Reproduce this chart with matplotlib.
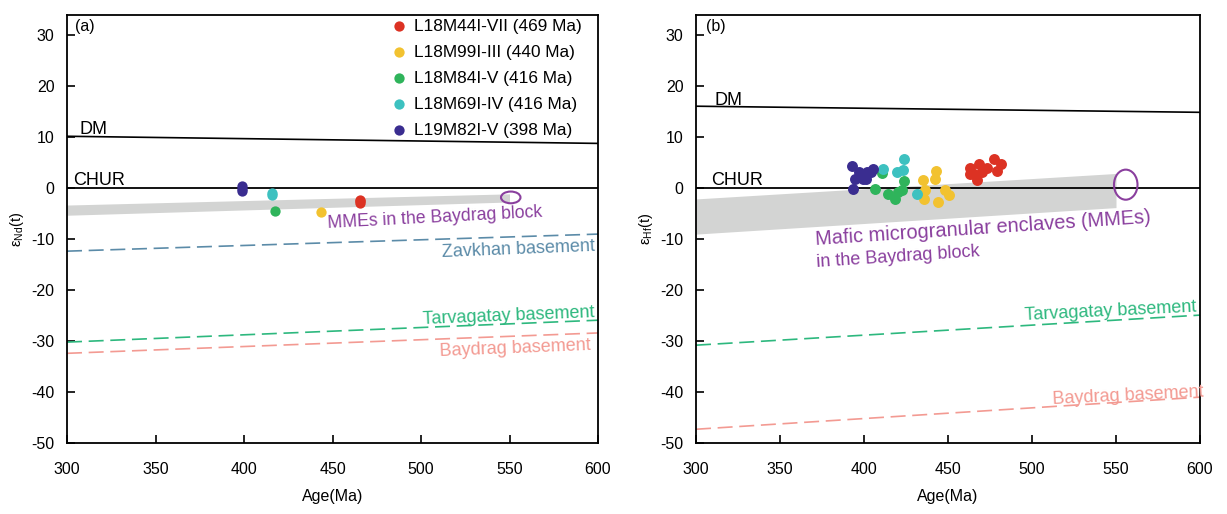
import matplotlib
matplotlib.use("Agg")
import matplotlib.pyplot as plt
from matplotlib.patches import Ellipse
import numpy as np

plt.rcParams['font.family'] = ['Liberation Sans', 'DejaVu Sans']
plt.rcParams['mathtext.fontset'] = 'custom'
plt.rcParams['mathtext.rm'] = 'Liberation Sans'
plt.rcParams['mathtext.it'] = 'Liberation Sans'
plt.rcParams['axes.unicode_minus'] = False

# ---------------- data ----------------
samples = ["L18M44I-VII (469 Ma)", "L18M99I-III (440 Ma)", "L18M84I-V (416 Ma)",
           "L18M69I-IV (416 Ma)", "L19M82I-V (398 Ma)"]
colors = ["#dc3223", "#f2c230", "#2fb45b", "#3dc1c0", "#3a2d90"]

# panel (a) eNd(t)
nd_age = {
    "L18M44I-VII (469 Ma)": [465.5, 465.5, 465.5],
    "L18M99I-III (440 Ma)": [443.3],
    "L18M84I-V (416 Ma)": [417.5],
    "L18M69I-IV (416 Ma)": [416.0, 416.0],
    "L19M82I-V (398 Ma)": [399.0, 399.0, 399.0],
}
nd_val = {
    "L18M44I-VII (469 Ma)": [-2.3, -2.6, -2.9],
    "L18M99I-III (440 Ma)": [-4.6],
    "L18M84I-V (416 Ma)": [-4.4],
    "L18M69I-IV (416 Ma)": [-1.0, -1.4],
    "L19M82I-V (398 Ma)": [0.4, -0.1, -0.6],
}
# panel (b) eHf(t)
hf_age = {
    "L18M44I-VII (469 Ma)": [463.0, 468.7, 467.0, 465.5, 473.0, 477.4, 481.4, 479.0, 463.0, 470.0],
    "L18M99I-III (440 Ma)": [435.3, 442.9, 442.3, 436.3, 435.9, 444.3, 448.2, 450.8],
    "L18M84I-V (416 Ma)": [410.5, 406.5, 414.5, 418.5, 422.4, 423.8, 420.0],
    "L18M69I-IV (416 Ma)": [411.5, 423.8, 419.5, 423.4, 431.4],
    "L19M82I-V (398 Ma)": [393.0, 394.6, 397.2, 399.6, 401.6, 404.0, 405.5, 401.0, 393.6],
}
hf_val = {
    "L18M44I-VII (469 Ma)": [4.0, 4.8, 1.6, 2.7, 3.9, 5.7, 4.8, 3.3, 2.7, 3.1],
    "L18M99I-III (440 Ma)": [1.6, 3.3, 1.9, -0.4, -2.2, -2.7, -0.4, -1.4],
    "L18M84I-V (416 Ma)": [2.9, -0.1, -1.2, -2.2, -0.4, 1.4, -0.8],
    "L18M69I-IV (416 Ma)": [3.7, 5.7, 3.2, 3.5, -1.2],
    "L19M82I-V (398 Ma)": [4.4, 1.9, 3.1, 1.9, 3.2, 3.1, 3.7, 1.9, -0.1],
}

ref_age = [300, 600]
# panel a reference lines
a_dm = [10.2, 8.8]
a_zav = [-12.35, -9.0]
a_tar = [-30.2, -25.9]
a_bay = [-32.4, -28.4]
a_band_age = [300, 550]
a_band_top = [-3.3, -1.1]
a_band_bot = [-5.3, -2.7]
# panel b reference lines
b_dm = [16.1, 14.9]
b_tar = [-30.8, -24.9]
b_bay = [-47.3, -41.0]
b_band_age = [300, 550]
b_band_top = [-2.1, 2.9]
b_band_bot = [-9.0, -3.8]

xticks = [300, 350, 400, 450, 500, 550, 600]
yticks = [-50, -40, -30, -20, -10, 0, 10, 20, 30]

purple_txt = "#8a3f9e"
c_zav = "#5b8ba8"
c_tar = "#2db87e"
c_bay = "#f39a92"

fig = plt.figure(figsize=(12.27, 5.14), dpi=100)
axa = fig.add_axes([67/1227, 1-443/514, (598-67)/1227, 428/514])
axb = fig.add_axes([696/1227, 1-443/514, 504/1227, 428/514])

def style(ax, ylab):
    ax.set_xlim(300, 600)
    ax.set_ylim(-50, 34)
    ax.set_xticks(xticks)
    ax.set_yticks(yticks)
    ax.tick_params(direction='in', length=6, width=1.2, labelsize=11.5)
    ax.tick_params(axis='x', pad=14)
    ax.tick_params(axis='y', pad=9)
    for s in ax.spines.values():
        s.set_linewidth(1.3)
    ax.set_xlabel("Age(Ma)", fontsize=11.5, labelpad=8)
    ax.set_ylabel(ylab, fontsize=10.5, labelpad=4)
    ax.axhline(0, color='black', lw=1.3, zorder=2)

dash = (0, (9, 4))

# ---- panel a ----
style(axa, r'ε$_{\mathrm{Nd}}$(t)')
axa.fill_between(a_band_age, a_band_top, a_band_bot, color='#d3d4d3', lw=0, zorder=1)
axa.plot(ref_age, a_dm, color='black', lw=1.2)
axa.plot(ref_age, a_zav, color=c_zav, lw=1.2, ls=dash)
axa.plot(ref_age, a_tar, color=c_tar, lw=1.2, ls=dash)
axa.plot(ref_age, a_bay, color=c_bay, lw=1.2, ls=dash)
axa.add_patch(Ellipse((550.7, -1.8), 11, 2.3, fill=False, ec=purple_txt, lw=1.5, zorder=3))
for s, c in zip(samples, colors):
    axa.scatter(nd_age[s], nd_val[s], s=55, color=c, lw=0, zorder=4, label=s)
axa.text(307, 10.6, "DM", fontsize=13)
axa.text(303.5, 0.7, "CHUR", fontsize=13)
axa.text(0.015, 0.99, "(a)", transform=axa.transAxes, fontsize=11.5, va='top')
axa.text(447.5, -7.8, "MMEs in the Baydrag block", color=purple_txt, fontsize=12.7,
         rotation=3.0, rotation_mode='anchor')
axa.text(512, -13.4, "Zavkhan basement", color=c_zav, fontsize=13,
         rotation=2.3, rotation_mode='anchor')
axa.text(501, -26.6, "Tarvagatay basement", color=c_tar, fontsize=13,
         rotation=2.3, rotation_mode='anchor')
axa.text(510.7, -32.9, "Baydrag basement", color=c_bay, fontsize=13,
         rotation=2.3, rotation_mode='anchor')
leg = axa.legend(loc='upper left', bbox_to_anchor=(0.585, 1.02), frameon=False,
                 fontsize=12.4, handletextpad=0.3, labelspacing=0.635,
                 handlelength=1.1, borderaxespad=0.3)

# ---- panel b ----
style(axb, r'ε$_{\mathrm{Hf}}$(t)')
axb.fill_between(b_band_age, b_band_top, b_band_bot, color='#d3d4d3', lw=0, zorder=1)
axb.plot(ref_age, b_dm, color='black', lw=1.2)
axb.plot(ref_age, b_tar, color=c_tar, lw=1.2, ls=dash)
axb.plot(ref_age, b_bay, color=c_bay, lw=1.2, ls=dash)
axb.add_patch(Ellipse((555.8, 0.7), 14, 5.9, fill=False, ec=purple_txt, lw=1.5, zorder=3))
for s, c in zip(samples, colors):
    axb.scatter(hf_age[s], hf_val[s], s=62, color=c, lw=0, zorder=4)
axb.text(311.3, 16.4, "DM", fontsize=13)
axb.text(309, 0.7, "CHUR", fontsize=13)
axb.text(0.02, 0.99, "(b)", transform=axb.transAxes, fontsize=11.5, va='top')
axb.text(371, -11.2, "Mafic microgranular enclaves (MMEs)", color=purple_txt, fontsize=14.4,
         rotation=3.8, rotation_mode='anchor')
axb.text(372, -15.4, "in the Baydrag block", color=purple_txt, fontsize=13,
         rotation=3.8, rotation_mode='anchor')
axb.text(496, -25.8, "Tarvagatay basement", color=c_tar, fontsize=13,
         rotation=2.8, rotation_mode='anchor')
axb.text(512.5, -42.4, "Baydrag basement", color=c_bay, fontsize=13,
         rotation=2.8, rotation_mode='anchor')

fig.savefig("out.png", dpi=100)
